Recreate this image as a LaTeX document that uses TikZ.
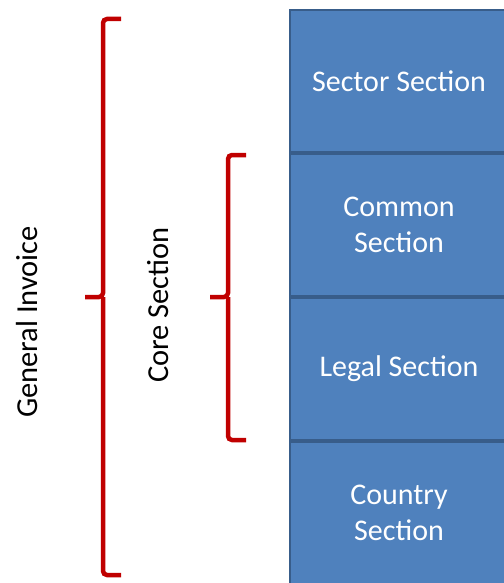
\documentclass[tikz,border=0pt]{standalone}
\usepackage{fontspec}
\setmainfont{Carlito}
\usetikzlibrary{positioning,calc}
\definecolor{secfill}{HTML}{4F81BD}
\definecolor{secline}{HTML}{385D8A}
\definecolor{bracered}{HTML}{C00000}
\begin{document}
\begin{tikzpicture}[x=1pt, y=-1pt, node distance=0pt]
		% styles
		\tikzstyle{sec} = [rectangle, draw=secline, line width=2pt, fill=secfill, text=white,
			minimum width=218pt, minimum height=142pt, align=center, inner sep=0pt,
			font=\fontsize{30}{36}\selectfont]
		\tikzstyle{brace} = [draw=bracered, line width=4.5pt, rounded corners=4pt]
		\tikzstyle{lbl} = [rotate=90, font=\fontsize{30.5}{36}\selectfont]
		\useasboundingbox (0,0) rectangle (503,583);
		
		% sections
		\node [sec, anchor=north west] (sector) at (289,9) {Sector Section};
		\node [sec, below=of sector] (common) {Common\\Section};
		\node [sec, below=of common] (legal) {Legal Section};
		\node [sec, below=of legal] (country) {Country\\Section};
		
		% braces
		\coordinate (gtop) at (103,19);
		\coordinate (gbot) at (103,575);
		\coordinate (gtip) at (85,297);
		\coordinate (ctop) at (228,155);
		\coordinate (cbot) at (228,440);
		\coordinate (ctip) at (210,297);
		\draw [brace] ($(gtop)+(18,0)$) -- (gtop) -- (gtop|-gtip) -- (gtip);
		\draw [brace] (gtop|-gtip) -- (gbot) -- ($(gbot)+(18,0)$);
		\draw [brace] ($(ctop)+(18,0)$) -- (ctop) -- (ctop|-ctip) -- (ctip);
		\draw [brace] (ctop|-ctip) -- (cbot) -- ($(cbot)+(18,0)$);
		
		% labels
		\node [lbl] (general) at (27,322) {General Invoice};
		\node [lbl] (core) at (158,305) {Core Section};
\end{tikzpicture}
\end{document}
